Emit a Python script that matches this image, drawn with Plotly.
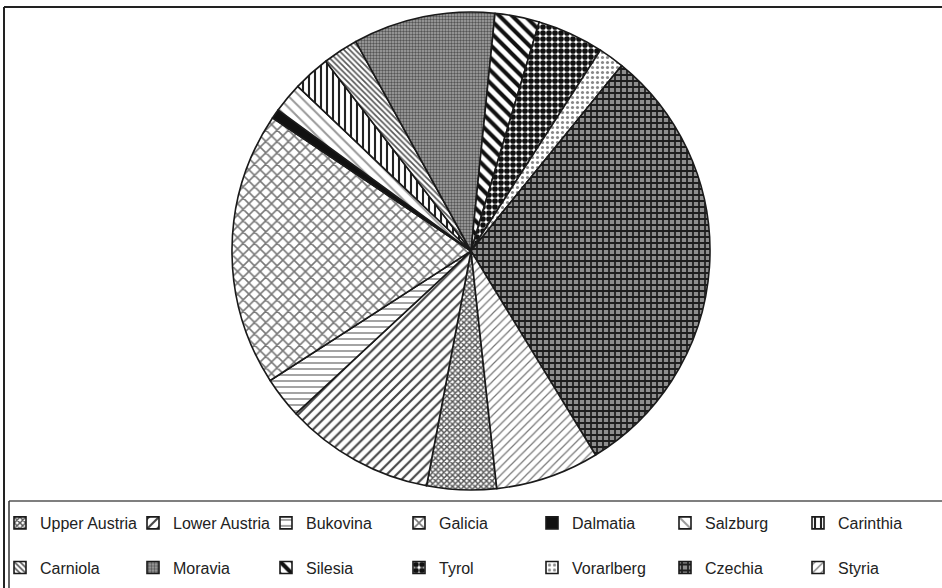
import plotly.graph_objects as go

# ---- data ----
regions = ["Upper Austria", "Lower Austria", "Bukovina", "Galicia", "Dalmatia",
           "Salzburg", "Carinthia", "Carniola", "Moravia", "Silesia", "Tyrol",
           "Vorarlberg", "Czechia", "Styria"]
shares = [4.7, 10.1, 2.8, 18.5, 0.65, 2.05, 2.5, 2.4, 9.6, 3.0, 4.5, 1.75, 30.4, 7.0]

# ---- styles (black & white hatching) ----
pat_shape = ["x", "/", "-", "x", "", "\\", "|", "\\", ".", "\\", ".", ".", "+", "/"]
pat_fg = ["#555555", "#444444", "#666666", "#777777", "#111111", "#999999", "#222222",
          "#555555", "#555555", "#111111", "#111111", "#888888", "#1e1e1e", "#777777"]
pat_bg = ["#ffffff", "#ffffff", "#ffffff", "#ffffff", "#111111", "#ffffff", "#ffffff",
          "#ffffff", "#a8a8a8", "#ffffff", "#ffffff", "#ffffff", "#8e8e8e", "#ffffff"]
pat_size = [4, 7, 6, 8, 8, 8, 6, 4, 3, 9, 6, 5, 6, 6]
pat_sol = [0.6, 0.3, 0.2, 0.35, 0.3, 0.25, 0.35, 0.4, 0.5, 0.45, 0.7, 0.3, 0.5, 0.2]
slice_colors = list(pat_bg)

W, H = 942, 588

def px(x):
    return x / W

def py(y):
    return 1 - y / H

legend_labels = [r + "<br>\u00a0" for r in regions]

fig = go.Figure(go.Pie(
    labels=legend_labels,
    values=shares,
    sort=False,
    direction="clockwise",
    rotation=173.8,
    textinfo="none",
    hoverinfo="skip",
    domain=dict(x=[px(232), px(710)], y=[py(490), py(12)]),
    marker=dict(
        colors=slice_colors,
        line=dict(color="#1a1a1a", width=1.6),
        pattern=dict(shape=pat_shape, fgcolor=pat_fg, bgcolor=pat_bg,
                     size=pat_size, solidity=pat_sol, fillmode="replace"),
    ),
))

shapes = [
    # outer frame (top and left)
    dict(type="line", xref="paper", yref="paper", x0=px(4), x1=px(945), y0=py(7), y1=py(7),
         line=dict(color="#222222", width=2)),
    dict(type="line", xref="paper", yref="paper", x0=px(4), x1=px(4), y0=py(7), y1=py(592),
         line=dict(color="#222222", width=2)),
    # legend box (top and left)
    dict(type="line", xref="paper", yref="paper", x0=px(9), x1=px(945), y0=py(501), y1=py(501),
         line=dict(color="#555555", width=1.5)),
    dict(type="line", xref="paper", yref="paper", x0=px(9), x1=px(9), y0=py(501), y1=py(592),
         line=dict(color="#333333", width=1.5)),
]

fig.update_layout(
    width=W, height=H,
    margin=dict(l=0, r=0, t=0, b=0, autoexpand=False),
    paper_bgcolor="white",
    plot_bgcolor="white",
    shapes=shapes,
    showlegend=True,
    legend=dict(
        orientation="h",
        x=0.0, xanchor="left",
        y=py(506), yanchor="top",
        entrywidth=88, entrywidthmode="pixels",
        valign="top",
        traceorder="normal",
        bgcolor="rgba(0,0,0,0)",
        font=dict(family="Liberation Sans, Arial, sans-serif", size=16, color="#222222"),
    ),
)

fig.write_html("out.html")
